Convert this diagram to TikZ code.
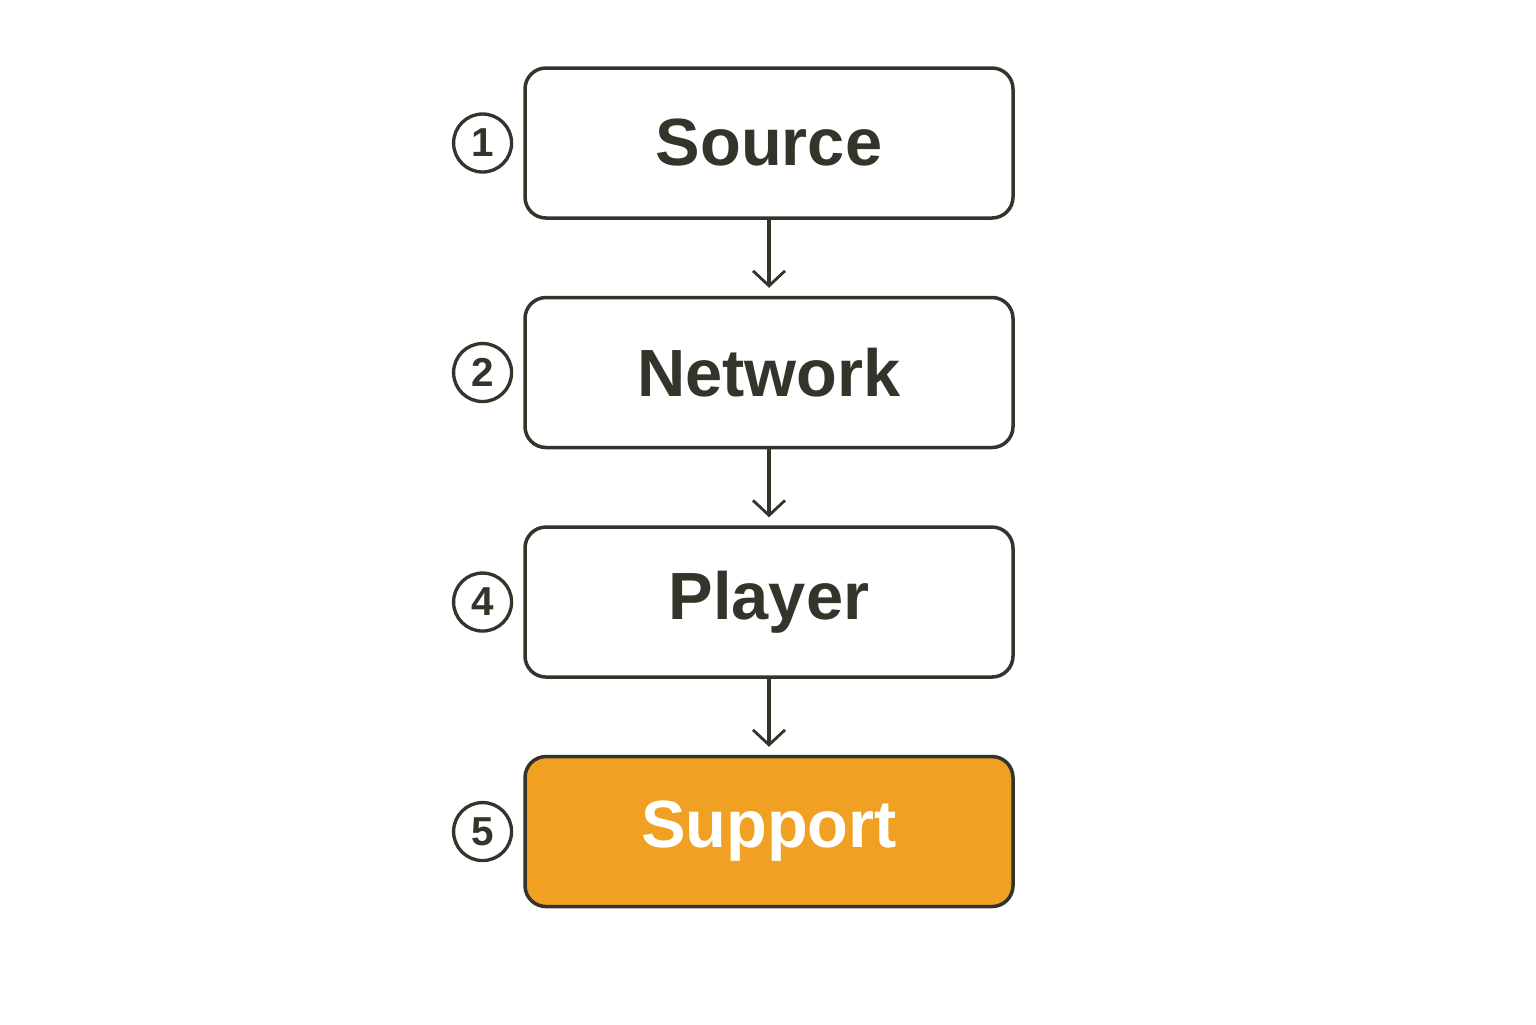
\documentclass[tikz,border=0pt]{standalone}
\usepackage{fontspec}
\setmainfont{Liberation Sans}
\usetikzlibrary{positioning,arrows.meta}
\definecolor{ink}{HTML}{33342A}
\definecolor{amber}{HTML}{F0A023}
\tikzset{>={Straight Barb[length=3mm,width=6.4mm,line width=1.6pt]}}
\tikzset{
    stage/.style={draw=ink, line width=2pt, rounded corners=.42cm, minimum width=9.76cm,
        minimum height=3cm, fill=white, text=ink, font=\fontsize{38}{44}\selectfont\bfseries},
    hilite/.style={stage, fill=amber, text=white},
    num/.style={draw=ink, line width=1.9pt, circle, minimum size=1.16cm, inner sep=0pt,
        text=ink, font=\fontsize{23}{26}\selectfont\bfseries},
    flow/.style={->, draw=ink, line width=1.8pt, shorten >=.16cm}
}

\begin{document}
\begin{tikzpicture}
    \useasboundingbox(0, 0) rectangle (30.72, -20.48);
    \node[stage](src)at(15.38, -2.86){Source};
    \node[stage, below=1.52cm of src](net){Network};
    \node[stage, below=1.52cm of net](ply){Player};
    \node[hilite, below=1.52cm of ply](sup){Support};
    \node[num, left=.2cm of src](n1){1};
    \node[num, left=.2cm of net](n2){2};
    \node[num, left=.2cm of ply](n4){4};
    \node[num, left=.2cm of sup](n5){5};
    \draw[flow](src)--(net);
    \draw[flow](net)--(ply);
    \draw[flow](ply)--(sup);
\end{tikzpicture}
\end{document}
